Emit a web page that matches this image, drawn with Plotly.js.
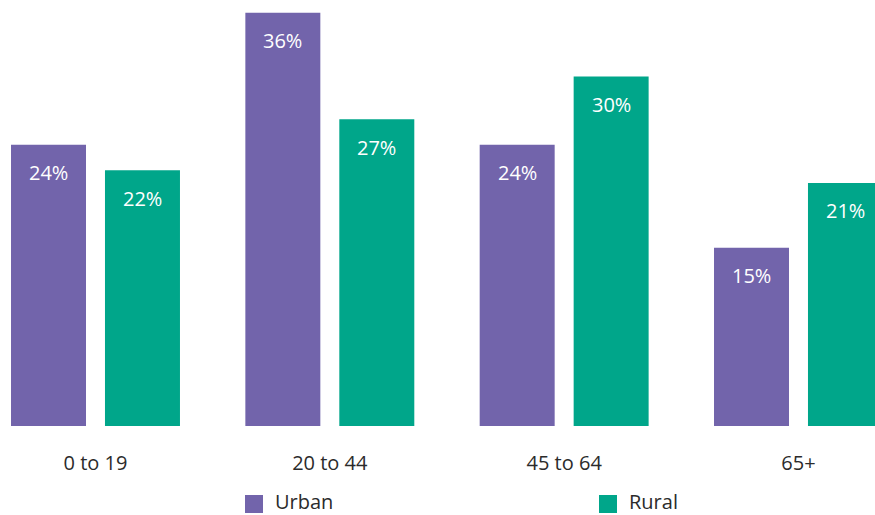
<!DOCTYPE html>
<html>
<head>
<meta charset="utf-8">
<script src="https://cdn.plot.ly/plotly-3.0.1.min.js"></script>
<style>html,body{margin:0;padding:0;background:#fff;}#chart{width:875px;height:515px;}</style>
</head>
<body>
<div id="chart"></div>
<script>
const categories = ["0 to 19", "20 to 44", "45 to 64", "65+"];
const seriesNames = ["Urban", "Rural"];
const urbanValues = [24.3, 35.7, 24.3, 15.4];
const ruralValues = [22.1, 26.5, 30.2, 21.0];
const colors = ["#7264ab", "#00a68a"];

const FONT = "Open Sans, sans-serif";
const bargap = 0.198;
const slot = (1 - bargap) / 2;

const allValues = [urbanValues, ruralValues];
const traces = allValues.map((vals, k) => ({
  type: "bar",
  name: seriesNames[k],
  x: categories,
  y: vals,
  marker: {color: colors[k]},
  showlegend: false,
  hoverinfo: "skip"
}));

const annotations = [];
allValues.forEach((vals, k) => {
  vals.forEach((v, i) => {
    annotations.push({
      x: i + (k === 0 ? -slot / 2 : slot / 2),
      y: v,
      xref: "x", yref: "y",
      text: Math.round(v) + "%",
      showarrow: false,
      yanchor: "middle",
      yshift: -28,
      font: {family: FONT, size: 20, color: "#ffffff"}
    });
  });
});

// legend drawn manually
const legendX = [0.28, 0.6846];
const shapes = [];
seriesNames.forEach((name, k) => {
  shapes.push({
    type: "rect", xref: "paper", yref: "paper",
    x0: legendX[k], x1: legendX[k] + 18 / 875,
    y0: -87 / 426, y1: -69 / 426,
    fillcolor: colors[k], line: {width: 0}
  });
  annotations.push({
    xref: "paper", yref: "paper",
    x: legendX[k] + 29 / 875, y: -76 / 426,
    xanchor: "left", yanchor: "middle",
    text: name, showarrow: false, borderpad: 0,
    font: {family: FONT, size: 20, color: "#2b2b2b"}
  });
});

const layout = {
  width: 875, height: 515,
  margin: {l: 0, r: 0, t: 0, b: 89},
  paper_bgcolor: "#ffffff", plot_bgcolor: "#ffffff",
  barmode: "group",
  bargap: bargap,
  bargroupgap: 0.202,
  font: {family: FONT, size: 20, color: "#2b2b2b"},
  xaxis: {
    type: "category",
    range: [-0.4075, 3.3265],
    showgrid: false, zeroline: false, showline: false,
    ticks: "", ticklabelstandoff: 23,
    tickfont: {family: FONT, size: 20, color: "#2b2b2b"},
    fixedrange: true
  },
  yaxis: {
    range: [0, 36.8],
    visible: false,
    showgrid: false, zeroline: false,
    fixedrange: true
  },
  shapes: shapes,
  annotations: annotations,
  showlegend: false
};

Plotly.newPlot("chart", traces, layout, {staticPlot: true, displayModeBar: false});
</script>
</body>
</html>
